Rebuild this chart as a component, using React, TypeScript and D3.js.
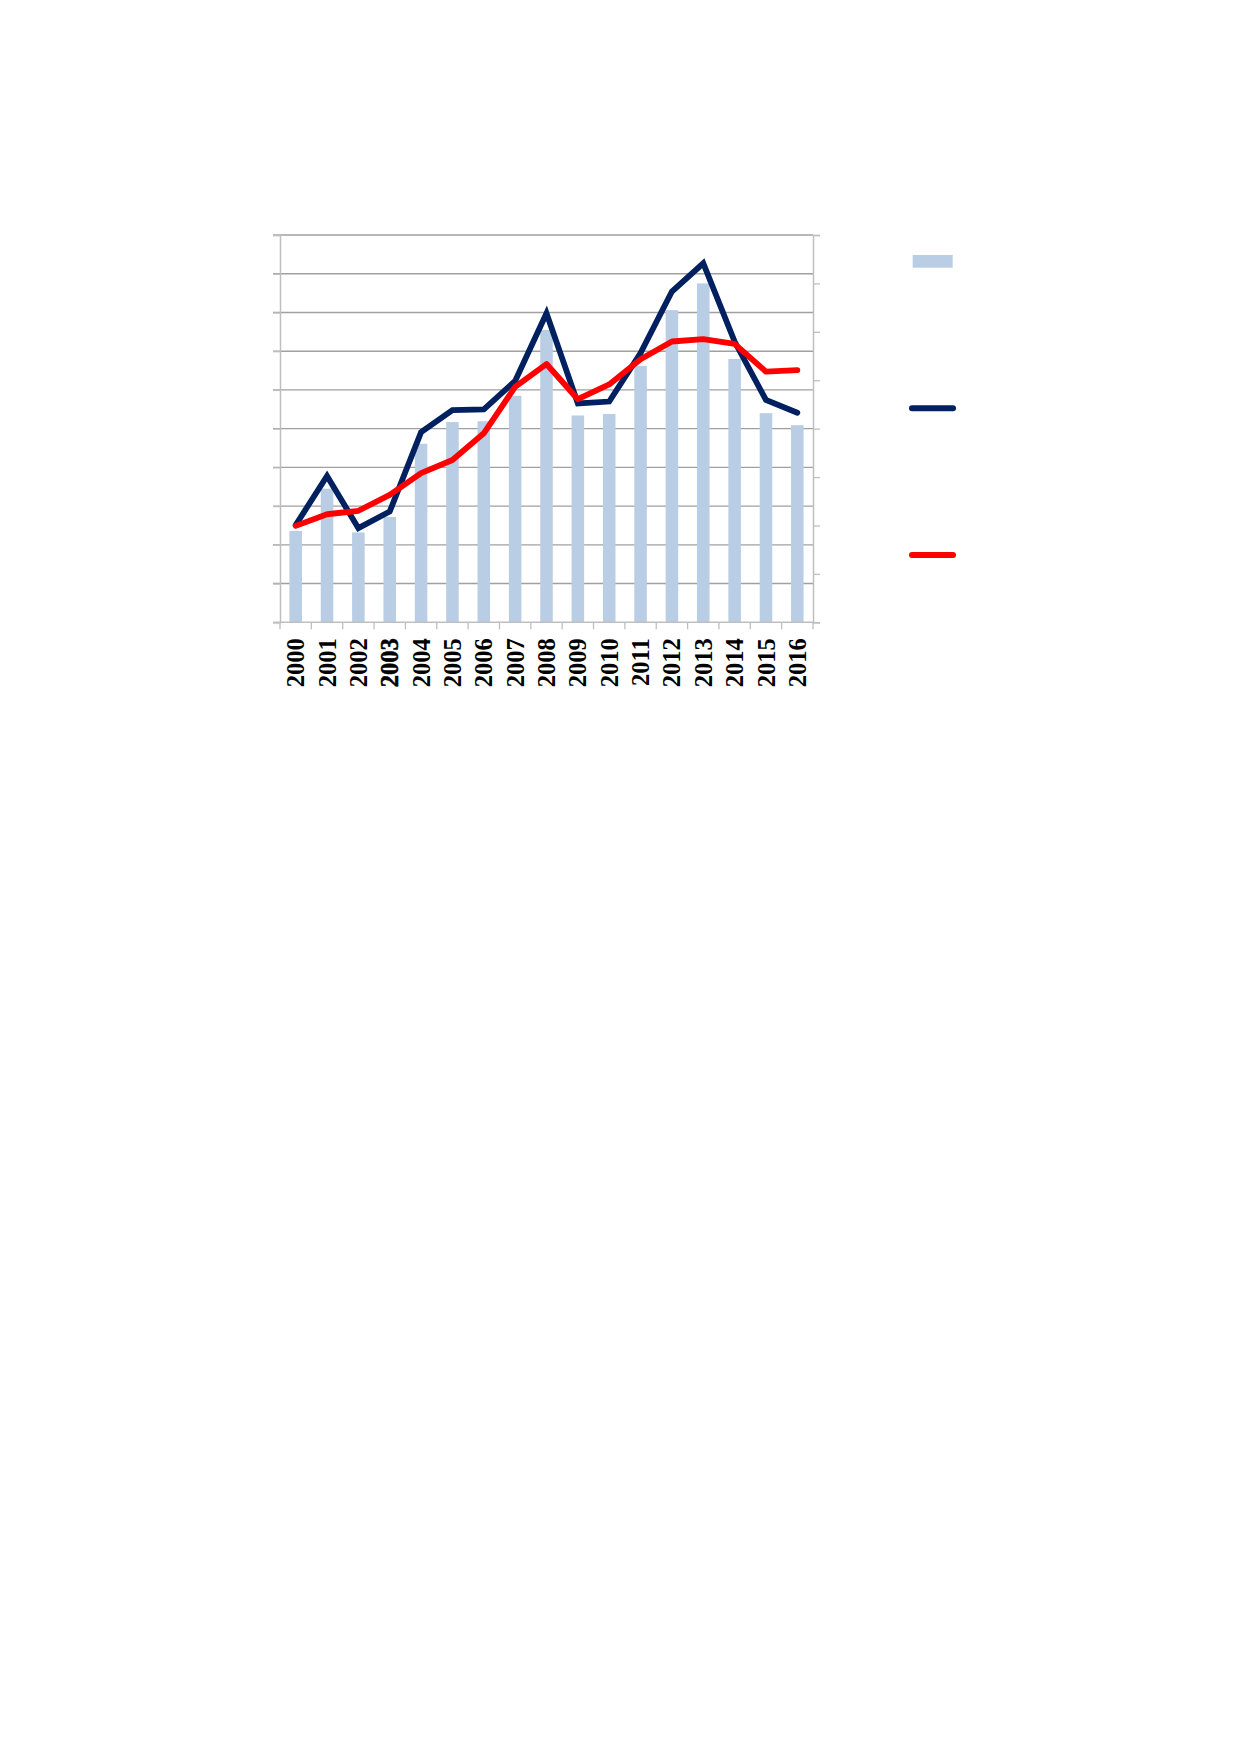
import { useEffect, useRef } from 'react';
import * as d3 from 'd3';

const years = ['2000', '2001', '2002', '2003', '2004', '2005', '2006', '2007', '2008',
  '2009', '2010', '2011', '2012', '2013', '2014', '2015', '2016'];

// bar series (left axis, in gridline units)
const barValues = [2.36, 3.45, 2.32, 2.72, 4.61, 5.17, 5.19, 5.85, 7.55,
  5.34, 5.38, 6.62, 8.06, 8.75, 6.80, 5.40, 5.09];

// dark blue line
const navyValues = [2.51, 3.78, 2.43, 2.86, 4.91, 5.48, 5.50, 6.23, 7.98,
  5.65, 5.70, 6.95, 8.54, 9.27, 7.25, 5.74, 5.41];

// red line
const redValues = [2.49, 2.79, 2.88, 3.29, 3.85, 4.19, 4.88, 6.08, 6.67,
  5.76, 6.14, 6.79, 7.25, 7.31, 7.19, 6.47, 6.51];

const leftTicks = d3.range(0, 11);
const rightTicks = d3.range(0, 9);

const App: React.FC = () => {
  const chartRef = useRef<SVGSVGElement>(null);

  useEffect(() => {
    const width = 1239;
    const height = 1752;
    const left = 280, right = 813, top = 235, bottom = 622.3;

    const svg = d3.select(chartRef.current)
      .attr('width', width)
      .attr('height', height);
    svg.selectAll('*').remove();

    const x = d3.scaleBand<string>().domain(years).range([left, right]);
    const yLeft = d3.scaleLinear().domain([0, 10]).range([bottom, top]);
    const yRight = d3.scaleLinear().domain([0, 8]).range([bottom, top]);

    // gridlines
    svg.append('g')
      .selectAll('line')
      .data(leftTicks.slice(1))
      .enter()
      .append('line')
      .attr('x1', left - 7)
      .attr('x2', right)
      .attr('y1', d => yLeft(d))
      .attr('y2', d => yLeft(d))
      .attr('stroke', '#a0a0a0')
      .attr('stroke-width', 1.4);

    // left axis
    const leftAxis = svg.append('g')
      .attr('transform', `translate(${left},0)`)
      .call(d3.axisLeft(yLeft).tickValues(leftTicks).tickSize(7).tickFormat(() => ''));
    // right axis
    const rightAxis = svg.append('g')
      .attr('transform', `translate(${right},0)`)
      .call(d3.axisRight(yRight).tickValues(rightTicks).tickSize(7).tickFormat(() => ''));
    [leftAxis, rightAxis].forEach(a => {
      a.select('.domain').attr('stroke', '#bfbfbf').attr('stroke-width', 1.5);
      a.selectAll('.tick line').attr('stroke', '#bfbfbf').attr('stroke-width', 1.3);
    });

    // bars
    const barW = x.bandwidth() * 0.4;
    svg.append('g')
      .selectAll('rect')
      .data(barValues)
      .enter()
      .append('rect')
      .attr('x', (d, i) => x(years[i])! + (x.bandwidth() - barW) / 2)
      .attr('width', barW)
      .attr('y', d => yLeft(d))
      .attr('height', d => bottom - yLeft(d))
      .attr('fill', '#b9cde5');

    // bottom axis
    const bottomAxis = svg.append('g')
      .attr('transform', `translate(0,${bottom})`);
    bottomAxis.append('line')
      .attr('x1', left - 7).attr('x2', right)
      .attr('stroke', '#bfbfbf').attr('stroke-width', 1.5);
    const edges = [...years.map(y => x(y)!), right];
    bottomAxis.selectAll('.tk')
      .data(edges)
      .enter()
      .append('line')
      .attr('x1', d => d).attr('x2', d => d)
      .attr('y1', 0).attr('y2', 7)
      .attr('stroke', '#bfbfbf').attr('stroke-width', 1.3);

    bottomAxis.selectAll('text')
      .data(years)
      .enter()
      .append('text')
      .attr('transform', d => `translate(${x(d)! + x.bandwidth() / 2},16) rotate(-90)`)
      .attr('dy', '0.35em')
      .style('text-anchor', 'end')
      .style('font-family', '"Liberation Serif", "Times New Roman", serif')
      .style('font-weight', 'bold')
      .style('font-size', '24.5px')
      .attr('stroke', d => d === '2003' ? '#000' : 'none')
      .attr('stroke-width', 0.5)
      .text(d => d);

    // lines
    const line = d3.line<number>()
      .x((d, i) => x(years[i])! + x.bandwidth() / 2)
      .y(d => yLeft(d));

    svg.append('path')
      .datum(navyValues)
      .attr('d', line)
      .attr('fill', 'none')
      .attr('stroke', '#002060')
      .attr('stroke-width', 5.8)
      .attr('stroke-linejoin', 'miter')
      .attr('stroke-linecap', 'round');

    svg.append('path')
      .datum(redValues)
      .attr('d', line)
      .attr('fill', 'none')
      .attr('stroke', '#ff0000')
      .attr('stroke-width', 5.8)
      .attr('stroke-linejoin', 'round')
      .attr('stroke-linecap', 'round');

    // legend (no text in the original)
    const legend = svg.append('g');
    legend.append('rect')
      .attr('x', 912.7).attr('y', 255)
      .attr('width', 40).attr('height', 12.7)
      .attr('fill', '#b9cde5');
    legend.append('line')
      .attr('x1', 912).attr('x2', 953)
      .attr('y1', 408.3).attr('y2', 408.3)
      .attr('stroke', '#002060').attr('stroke-width', 6)
      .attr('stroke-linecap', 'round');
    legend.append('line')
      .attr('x1', 912).attr('x2', 953)
      .attr('y1', 555).attr('y2', 555)
      .attr('stroke', '#ff0000').attr('stroke-width', 6)
      .attr('stroke-linecap', 'round');
  }, []);

  return <svg ref={chartRef} style={{ position: 'absolute', left: 0, top: 0 }}></svg>;
};

export default App;
